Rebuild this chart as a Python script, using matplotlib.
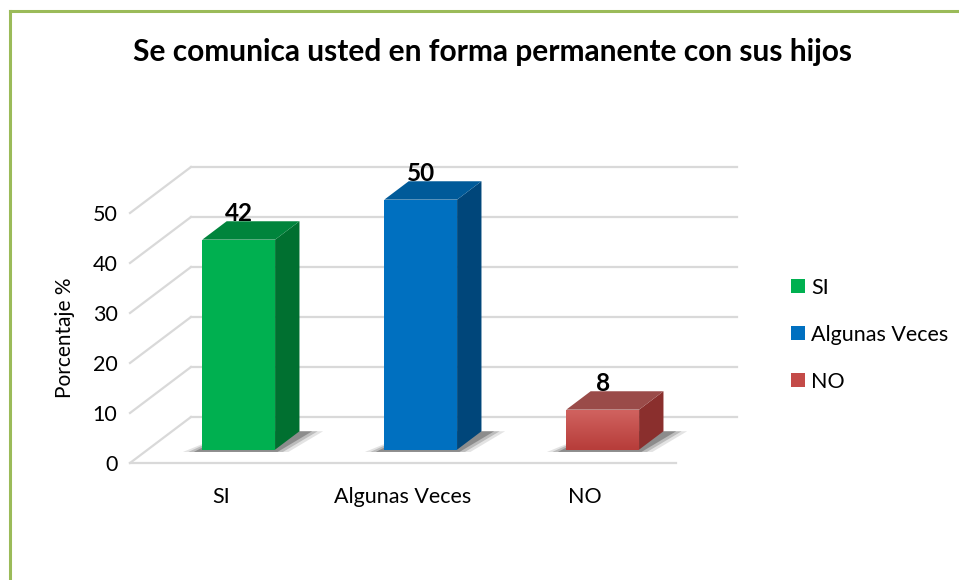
import numpy as np
import matplotlib.pyplot as plt
from matplotlib.patches import Polygon, Patch
from matplotlib.lines import Line2D
from matplotlib.colors import LinearSegmentedColormap

plt.rcParams['font.family'] = ['Lato', 'DejaVu Sans']

categories = ["SI", "Algunas Veces", "NO"]
values = [42, 50, 8]
yticks = [0, 10, 20, 30, 40, 50]
title = "Se comunica usted en forma permanente con sus hijos"
ylabel = "Porcentaje %"

front_col = ["#00B050", "#0070C0", "#C44B48"]
side_col = ["#007030", "#00467A", "#8A2F2D"]
top_col = ["#00843C", "#005A99", "#9A4B49"]

# oblique projection of the depth axis (data units)
DX, DY = 0.335, 9.2
F0, F1 = 0.29, 0.69     # bar depth span
BW = 0.40               # bar width
YMAX = 62

fig = plt.figure(figsize=(9.59, 5.8), dpi=100)
ax = fig.add_axes([130 / 959, 117 / 580, 3.4 * 182 / 959, YMAX * 5 / 580])
for s in ax.spines.values():
    s.set_visible(False)

grid = dict(color="#D9D9D9", lw=1.6, zorder=1, clip_on=False)
# side wall obliques + back wall lines
for v in yticks:
    ax.plot([0, DX], [v, v + DY], **grid)
    ax.plot([DX, 3 + DX], [v + DY, v + DY], **grid)
ax.plot([0, 3], [0, 0], **grid)


def proj(x, y, d):
    return (x + d * DX, y + d * DY)


for i, (v, fc, sc, tc) in enumerate(zip(values, front_col, side_col, top_col)):
    x0, x1 = i + 0.5 - BW / 2, i + 0.5 + BW / 2
    # soft shadow on the floor
    for k, a in [(0.09, 0.12), (0.06, 0.2), (0.03, 0.3)]:
        sh = [proj(x0 - k, 0, F0 - 0.05), proj(x1 + k, 0, F0 - 0.05),
              proj(x1 + k + 0.04, 0, F1), proj(x0 + 0.04, 0, F1)]
        ax.add_patch(Polygon(sh, closed=True, fc="#202020", ec="none", alpha=a,
                             zorder=2, clip_on=False))
    front = [proj(x0, 0, F0), proj(x1, 0, F0), proj(x1, v, F0), proj(x0, v, F0)]
    side = [proj(x1, 0, F0), proj(x1, 0, F1), proj(x1, v, F1), proj(x1, v, F0)]
    top = [proj(x0, v, F0), proj(x1, v, F0), proj(x1, v, F1), proj(x0, v, F1)]
    ax.add_patch(Polygon(side, closed=True, fc=sc, ec="none", zorder=3, clip_on=False))
    ax.add_patch(Polygon(top, closed=True, fc=tc, ec="none", zorder=3, clip_on=False))
    fp = Polygon(front, closed=True, fc=fc, ec="none", zorder=4, clip_on=False)
    ax.add_patch(fp)
    if i == 2:
        grad = np.linspace(1, 0, 50).reshape(-1, 1)
        fx, fy = proj(x0, 0, F0)
        im = ax.imshow(grad, cmap=LinearSegmentedColormap.from_list("r", ["#B73D3A", "#D0625F"]),
                       extent=[fx, fx + BW, fy, fy + v], aspect="auto", zorder=5, origin="upper")
        im.set_clip_path(fp)
    lx, ly = proj(i + 0.5, v, F0)
    ax.text(lx, v + F1 * DY - 0.7, str(v), ha="center", va="bottom",
            fontsize=17.5, fontweight="bold", color="black", zorder=6)

ax.set_xlim(0, 3.4)
ax.set_ylim(0, YMAX)
ax.set_xticks([0.5, 1.5, 2.5])
ax.set_xticklabels(categories, fontsize=15.5)
ax.set_yticks(yticks)
ax.set_yticklabels([str(t) for t in yticks], fontsize=15.5)
ax.tick_params(axis="x", length=0, pad=17)
ax.tick_params(axis="y", length=0, pad=9)
ax.set_ylabel(ylabel, fontsize=15, labelpad=13, y=25 / YMAX)

fig.text(492 / 959, 1 - 52 / 580, title, ha="center", va="center",
         fontsize=21.5, fontweight="bold")

handles = [Patch(fc=c, ec="none") for c in front_col]
fig.legend(handles, categories, loc="upper left", bbox_to_anchor=(780 / 959, 1 - 267 / 580),
           frameon=False, fontsize=15.5, handlelength=0.65, handleheight=0.65,
           handletextpad=0.3, labelspacing=1.25, borderpad=0)

# chart-area border (left and top visible)
fig.add_artist(Line2D([9.5 / 959, 9.5 / 959], [0, 1 - 11 / 580], color="#9BBB59", lw=2.2,
                      transform=fig.transFigure))
fig.add_artist(Line2D([9.5 / 959, 1], [1 - 11 / 580, 1 - 11 / 580], color="#9BBB59", lw=2.2,
                      transform=fig.transFigure))

fig.savefig("out.png", dpi=100)
